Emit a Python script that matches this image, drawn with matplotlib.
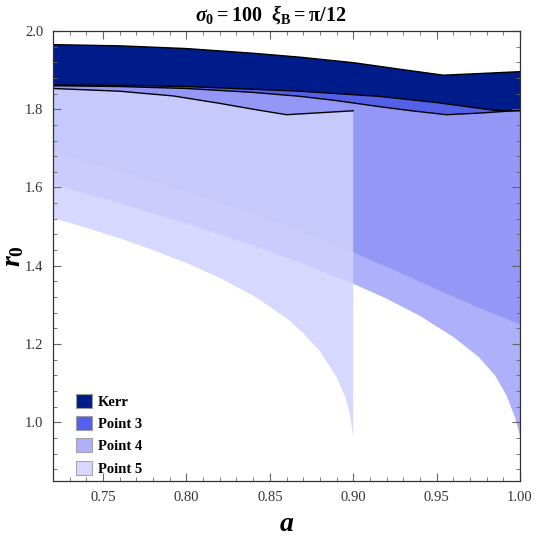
import numpy as np
import matplotlib.pyplot as plt
from matplotlib.patches import Patch
from matplotlib.ticker import MultipleLocator, FormatStrFormatter

plt.rcParams['font.family'] = ['Liberation Serif', 'DejaVu Serif']
plt.rcParams['mathtext.fontset'] = 'custom'
plt.rcParams['mathtext.rm'] = 'Liberation Serif:bold'
plt.rcParams['mathtext.bf'] = 'Liberation Serif:bold'
plt.rcParams['mathtext.it'] = 'Liberation Serif:italic:bold'

# boundary curves (a, r0)
kerr_up_a = [0.72, 0.76, 0.80, 0.84, 0.868, 0.90, 0.93, 0.954, 0.975, 1.0]
kerr_up_r = [1.965, 1.962, 1.955, 1.943, 1.933, 1.919, 1.901, 1.887, 1.891, 1.896]
kerr_lo_a = [0.72, 0.76, 0.80, 0.84, 0.868, 0.915, 0.95, 0.985, 1.0]
kerr_lo_r = [1.862, 1.861, 1.858, 1.851, 1.846, 1.833, 1.817, 1.797, 1.796]

p3_lo_a = [0.72, 0.76, 0.80, 0.84, 0.87, 0.90, 0.925, 0.95, 0.975, 1.0]
p3_lo_r = [1.689, 1.641, 1.589, 1.532, 1.484, 1.434, 1.388, 1.340, 1.293, 1.250]

p4_up_a = [0.72, 0.76, 0.80, 0.84, 0.868, 0.89, 0.915, 0.935, 0.956, 0.975, 1.0]
p4_up_r = [1.860, 1.858, 1.853, 1.843, 1.833, 1.822, 1.807, 1.796, 1.786, 1.790, 1.797]
p4_lo_a = [0.72, 0.76, 0.80, 0.84, 0.87, 0.90, 0.92, 0.94, 0.96, 0.975, 0.985, 0.992, 0.997, 1.0]
p4_lo_r = [1.608, 1.560, 1.508, 1.452, 1.405, 1.354, 1.316, 1.272, 1.218, 1.168, 1.120, 1.068, 1.012, 0.965]

p5_up_a = [0.72, 0.76, 0.792, 0.82, 0.84, 0.860, 0.88, 0.90]
p5_up_r = [1.853, 1.846, 1.834, 1.815, 1.800, 1.786, 1.791, 1.796]
p5_lo_a = [0.72, 0.74, 0.76, 0.78, 0.80, 0.82, 0.84, 0.86, 0.87, 0.88, 0.89, 0.895, 0.898, 0.90]
p5_lo_r = [1.522, 1.497, 1.470, 1.440, 1.407, 1.369, 1.324, 1.266, 1.228, 1.182, 1.116, 1.068, 1.022, 0.960]

labels = ["Kerr", "Point 3", "Point 4", "Point 5"]
colors = ["#001c8a", "#3744e4", "#a0a2f9", "#d1d2fe"]
alpha = 0.85


def band(ax, ua, ur, la, lr, color, a=1.0):
    xs = list(ua) + list(la)[::-1]
    ys = list(ur) + list(lr)[::-1]
    ax.fill(xs, ys, color=color, alpha=a, lw=0)


fig = plt.figure(figsize=(5.34, 5.48), dpi=100)
ax = fig.add_axes([0.0993, 0.1223, 0.8745, 0.8212])

band(ax, kerr_lo_a, kerr_lo_r, p3_lo_a, p3_lo_r, colors[1], alpha)
band(ax, p4_up_a, p4_up_r, p4_lo_a, p4_lo_r, colors[2], alpha)
band(ax, p5_up_a, p5_up_r, p5_lo_a, p5_lo_r, colors[3], alpha)
band(ax, kerr_up_a, kerr_up_r, kerr_lo_a, kerr_lo_r, colors[0])

for xa, yr in [(p5_up_a, p5_up_r), (p4_up_a, p4_up_r),
               (kerr_lo_a, kerr_lo_r), (kerr_up_a, kerr_up_r)]:
    ax.plot(xa, yr, color="black", lw=1.0)

ax.set_xlim(0.72, 1.0)
ax.set_ylim(0.85, 2.0)
ax.xaxis.set_major_locator(MultipleLocator(0.05))
ax.xaxis.set_minor_locator(MultipleLocator(0.01))
ax.yaxis.set_major_locator(MultipleLocator(0.2))
ax.yaxis.set_minor_locator(MultipleLocator(0.04))
ax.xaxis.set_major_formatter(FormatStrFormatter('%.2f'))
ax.yaxis.set_major_formatter(FormatStrFormatter('%.1f'))
ax.tick_params(which='both', direction='in', top=True, right=True,
               color='#666666', labelcolor='#333333', labelsize=10.5)
ax.tick_params(which='major', length=6, width=0.8, pad=7)
ax.tick_params(which='minor', length=3, width=0.6)
for s in ax.spines.values():
    s.set_color('#333333')
    s.set_linewidth(0.9)

fig.text(0.507, 0.974, r'$\sigma_0 = 100\ \ \xi_{\rm B} = \mathrm{\pi}/12$',
         fontsize=14.5, ha='center', va='center')
ax.set_xlabel(r'$a$', fontsize=20)
ax.xaxis.set_label_coords(0.5, -0.068)
ax.set_ylabel(r'$r_0$', fontsize=20, rotation=90)
ax.yaxis.set_label_coords(-0.058, 0.5)

handles = [Patch(facecolor=colors[0], edgecolor='#999999', lw=0.8)]
handles += [Patch(facecolor=c, alpha=alpha, edgecolor='#999999', lw=0.8) for c in colors[1:]]
ax.legend(handles, labels, loc='lower left', bbox_to_anchor=(0.05, 0.012),
          frameon=False, borderpad=0, borderaxespad=0, handlelength=1.1,
          handleheight=1.1, handletextpad=0.35, labelspacing=0.5,
          prop={'family': 'Liberation Serif', 'weight': 'bold', 'size': 10.5})

fig.savefig("out.png", dpi=100)
